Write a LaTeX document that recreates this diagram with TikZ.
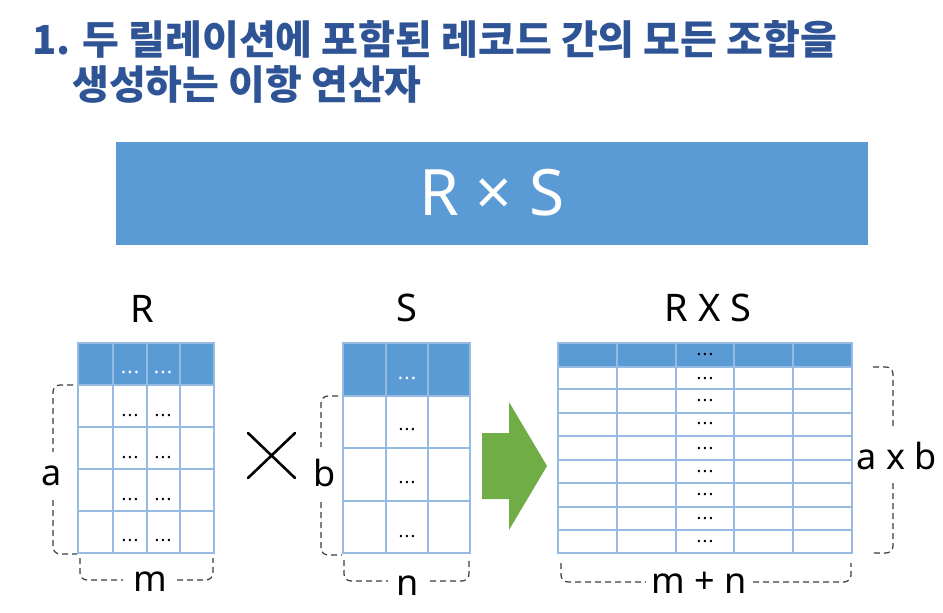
\documentclass[tikz,border=0pt]{standalone}
\usepackage{fontspec}
\setmainfont{Noto Sans}
\newfontfamily\krfont{Noto Sans CJK KR}
\definecolor{titleblue}{RGB}{46,84,150}
\definecolor{hdrblue}{RGB}{91,155,213}
\definecolor{gridblue}{RGB}{150,186,226}
\definecolor{arrowgreen}{RGB}{112,173,71}
\definecolor{bracegray}{RGB}{60,60,60}
\newcommand\celldots{.\kern1.2pt.\kern1.2pt.}
\tikzset{
  titletext/.style={anchor=base west, inner sep=0, text=titleblue, font=\krfont\bfseries\fontsize{40}{46}\selectfont},
  hdr/.style={fill=hdrblue},
  gridline/.style={draw=gridblue, line width=1.1pt},
  dotsw/.style={inner sep=0, text=white, font=\bfseries\fontsize{20}{20}\selectfont},
  dotsk/.style={inner sep=0, text=black, font=\fontsize{18}{18}\selectfont},
  tlabel/.style={inner sep=0, font=\fontsize{38}{40}\selectfont},
  dimlabel/.style={inner sep=0, font=\fontsize{36}{40}\selectfont},
  bracepath/.style={draw=bracegray, line width=1.2pt, dash pattern=on 6pt off 4pt, rounded corners=7pt}
}
\begin{document}
\begin{tikzpicture}[x=1pt,y=-1pt]
\useasboundingbox (0,0) rectangle (943,613);
\fill[white] (0,0) rectangle (943,613);

% title
\node[titletext] (t1) at (32,54) {1. 두 릴레이션에 포함된 레코드 간의 모든 조합을};
\node[titletext] (t2) at (72,99) {생성하는 이항 연산자};

% banner
\fill[hdrblue] (116,142) rectangle (868,245);
\node[inner sep=0, text=white, font=\fontsize{64}{64}\selectfont] (ban) at (492,193) {R × S};

% ---- R table
\node[tlabel] (lR) at (142.5,309) {R};
\fill[hdr] (78,343) rectangle (214,385);
\foreach \y in {385,427,469,511} \draw[gridline] (78,\y) -- (214,\y);
\foreach \x in {113,147,180} \draw[gridline] (\x,343) -- (\x,553);
\draw[gridline] (78,343) rectangle (214,553);
\node[dotsw] (rh1) at (130,372) {\celldots};
\node[dotsw] (rh2) at (163,372) {\celldots};
\foreach \y [count=\i] in {416,458,500,541} {
  \node[dotsk] (ra\i) at (130,\y) {\celldots};
  \node[dotsk] (rb\i) at (163,\y) {\celldots};
}
\node[dimlabel] (la) at (52,476) {a};
\draw[bracepath] (73,385) -| (53,452);
\draw[bracepath] (53,500) |- (77,554);
\node[dimlabel] (lm) at (150,582) {m};
\draw[bracepath] (80,558) |- (123,580);
\draw[bracepath] (177,580) -| (213,558);

% cross symbol
\coordinate (x1) at (248,433);
\coordinate (x2) at (295,478);
\coordinate (x3) at (295,433);
\coordinate (x4) at (248,478);
\draw[line width=2.6pt, line cap=round] (x1) -- (x2);
\draw[line width=2.6pt, line cap=round] (x3) -- (x4);

% ---- S table
\node[tlabel] (lS) at (407,308) {S};
\fill[hdr] (343,343) rectangle (470,396);
\foreach \y in {396,448,501} \draw[gridline] (343,\y) -- (470,\y);
\foreach \x in {386,428} \draw[gridline] (\x,343) -- (\x,553);
\draw[gridline] (343,343) rectangle (470,553);
\node[dotsw] (sh) at (407,378) {\celldots};
\foreach \y [count=\i] in {430,483,537} \node[dotsk] (sa\i) at (407,\y) {\celldots};
\node[dimlabel] (lb) at (325,473) {b};
\draw[bracepath] (338,396) -| (321,447);
\draw[bracepath] (321,502) |- (342,555);
\node[dimlabel] (ln) at (408,586) {n};
\draw[bracepath] (344,560) |- (388,581);
\draw[bracepath] (430,581) -| (469,560);

% arrow
\fill[arrowgreen] (482,433) -- (509,433) -- (509,402) -- (547,466) -- (509,530) -- (509,499) -- (482,499) -- cycle;

% ---- R x S table
\node[tlabel] (lRS) at (708,308) {R X S};
\fill[hdr] (558,343) rectangle (852,367);
\foreach \y in {367,389,413,436,460,483,507,530} \draw[gridline] (558,\y) -- (852,\y);
\foreach \x in {617,676,734,793} \draw[gridline] (\x,343) -- (\x,553);
\draw[gridline] (558,343) rectangle (852,553);
\node[dotsk] (ch) at (705,355) {\celldots};
\foreach \y [count=\i] in {379,401,424,449,472,495,519,542} \node[dotsk] (ca\i) at (705,\y) {\celldots};
\node[dimlabel] (lab) at (897,456) {a x b};
\draw[bracepath] (873,367) -| (893,427);
\draw[bracepath] (893,483) |- (873,553);
\node[dimlabel] (lmn) at (699,583) {m + n};
\draw[bracepath] (561,563) |- (646,582);
\draw[bracepath] (753,582) -| (851,563);
\end{tikzpicture}
\end{document}
